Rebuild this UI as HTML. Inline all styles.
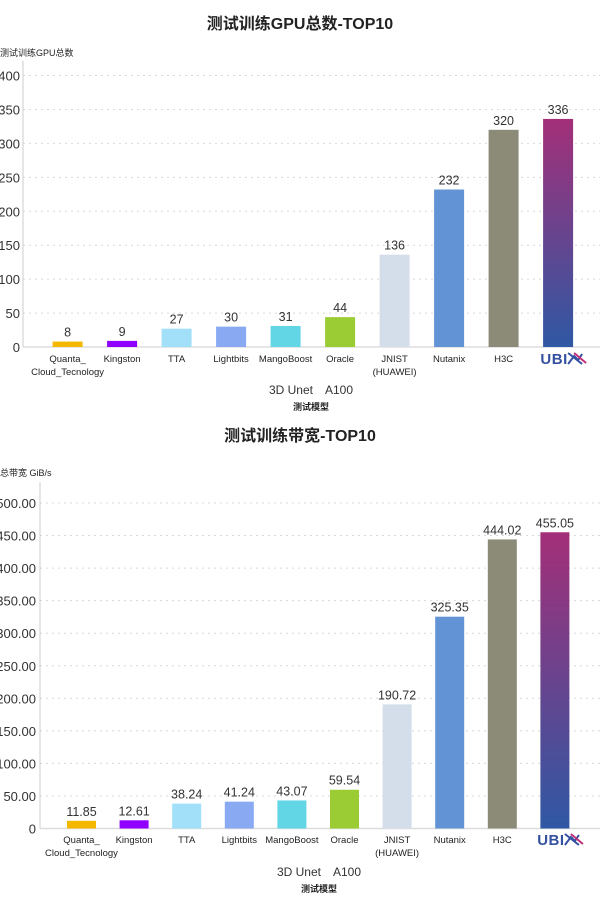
<!DOCTYPE html>
<html><head><meta charset="utf-8">
<style>
html,body{margin:0;padding:0;background:#fff;}
body{width:600px;height:917px;overflow:hidden;font-family:"Liberation Sans","Noto Sans CJK SC",sans-serif;}
svg text{font-family:"Liberation Sans","Noto Sans CJK SC",sans-serif;}
</style></head>
<body>
<svg id="chart" width="600" height="917" viewBox="0 0 600 917" xmlns="http://www.w3.org/2000/svg">
<defs>
<linearGradient id="ubix" x1="0" y1="0" x2="0" y2="1">
<stop offset="0" stop-color="#a32f78"/><stop offset="1" stop-color="#2f58a4"/>
</linearGradient>
</defs>
</svg>
<script>
const categories = ["Quanta_|Cloud_Tecnology","Kingston","TTA","Lightbits","MangoBoost","Oracle","JNIST|(HUAWEI)","Nutanix","H3C","UBIX"];
const gpuValues = [8,9,27,30,31,44,136,232,320,336];
const gpuTicks = [0,50,100,150,200,250,300,350,400];
const bwValues = [11.85,12.61,38.24,41.24,43.07,59.54,190.72,325.35,444.02,455.05];
const bwTicks = [0,50,100,150,200,250,300,350,400,450,500];
const colors = ["#f5b800","#8f00ff","#a2e0f9","#89a9f3","#62d6e5","#9bcc33","#d4deea","#6293d5","#8b8b78","url(#ubix)"];

const svg = document.getElementById('chart');
const NS = "http://www.w3.org/2000/svg";
function mk(tag, attrs, text){
  const e = document.createElementNS(NS, tag);
  for (const k in attrs) e.setAttribute(k, attrs[k]);
  if (text !== undefined) e.textContent = text;
  svg.appendChild(e);
  return e;
}

function drawChart(cfg){
  const y = v => cfg.y0 - (v / cfg.vmax) * (cfg.y0 - cfg.yTop);
  const x = i => cfg.x0 + i * cfg.step;
  let t = mk('text', {x:300, y:cfg.titleY, 'text-anchor':'middle', 'font-size':16, 'font-weight':'bold', fill:'#222'}, cfg.title);
  
  
  t = mk('text', {x:0, y:cfg.yTitleY, 'font-size':9, fill:'#222'}, cfg.yTitle);
  
  
  cfg.ticks.forEach(v => {
    const yy = y(v);
    if (v !== 0) {
      const g = mk('line', {x1:cfg.axisX, x2:600, y1:yy, y2:yy, stroke:'#d8d8d8', 'stroke-dasharray':'2,4', 'stroke-width':1});
      
      
    }
    const l = mk('text', {x:cfg.tickX, y:yy + 5, 'text-anchor':'end', 'font-size':13, fill:'#333'}, cfg.fmt(v));
    
    
  });
  let a = mk('line', {x1:cfg.axisX, x2:cfg.axisX, y1:cfg.axisTop, y2:cfg.y0, stroke:'#ccc', 'stroke-width':1});
  
  
  a = mk('line', {x1:cfg.axisX, x2:600, y1:cfg.y0, y2:cfg.y0, stroke:'#ddd', 'stroke-width':1.5});
  
  
  cfg.values.forEach((v, i) => {
    const cx = x(i), top = y(v);
    const r = mk('rect', {x:cx - cfg.bw/2, y:top, width:cfg.bw, height:cfg.y0 - top, fill:colors[i]});
    
    
    const vl = mk('text', {x:cx, y:top - 5, 'text-anchor':'middle', 'font-size':12.5, fill:'#333'}, cfg.fmtVal(v));
    
    
    const name = categories[i];
    if (name === 'UBIX') {
      const u = mk('text', {x:cx - 4, y:cfg.catY + 2, 'text-anchor':'middle', 'font-size':15, 'font-weight':'bold', fill:'#3450a0', 'letter-spacing':'0.5'}, 'UBI');
      
      
      const p = mk('path', {d:`M${cx+10} ${cfg.catY-9} L${cx+24} ${cfg.catY+2} M${cx+10} ${cfg.catY+2} L${cx+16} ${cfg.catY-6} L${cx+20} ${cfg.catY-2} L${cx+24} ${cfg.catY-8}`, stroke:'#3450a0', 'stroke-width':2, fill:'none'});
      
      
      const p2 = mk('path', {d:`M${cx+16} ${cfg.catY-9} L${cx+28} ${cfg.catY+1}`, stroke:'#c0307a', 'stroke-width':2, fill:'none'});
      
      
    } else {
      name.split('|').forEach((ln, j) => {
        const c = mk('text', {x:cx, y:cfg.catY + j * 13, 'text-anchor':'middle', 'font-size':9.5, fill:'#222'}, ln);
        
        
      });
    }
  });
  t = mk('text', {x:cfg.centerX, y:cfg.subY, 'text-anchor':'middle', 'font-size':12, fill:'#333'}, '3D Unet\u2003A100');
  
  
  t = mk('text', {x:cfg.centerX, y:cfg.subY + 16, 'text-anchor':'middle', 'font-size':9, 'font-weight':'bold', fill:'#222'}, '测试模型');
  
  
}

drawChart({prefix:'gpu', title:'测试训练GPU总数-TOP10', titleY:29, yTitle:'测试训练GPU总数', yTitleY:56,
  values:gpuValues, ticks:gpuTicks, vmax:400, y0:347, yTop:75.5, axisX:23, axisTop:61, tickX:20,
  x0:67.6, step:54.5, bw:30, catY:362, subY:394, centerX:311,
  fmt:v => String(v), fmtVal:v => String(v)});

drawChart({prefix:'bw', title:'测试训练带宽-TOP10', titleY:441, yTitle:'总带宽 GiB/s', yTitleY:476,
  values:bwValues, ticks:bwTicks, vmax:500, y0:828.5, yTop:503, axisX:40, axisTop:482, tickX:36,
  x0:81.5, step:52.6, bw:29, catY:843, subY:876, centerX:319,
  fmt:v => v === 0 ? '0' : v.toFixed(2), fmtVal:v => v.toFixed(2)});
</script>
</body></html>
